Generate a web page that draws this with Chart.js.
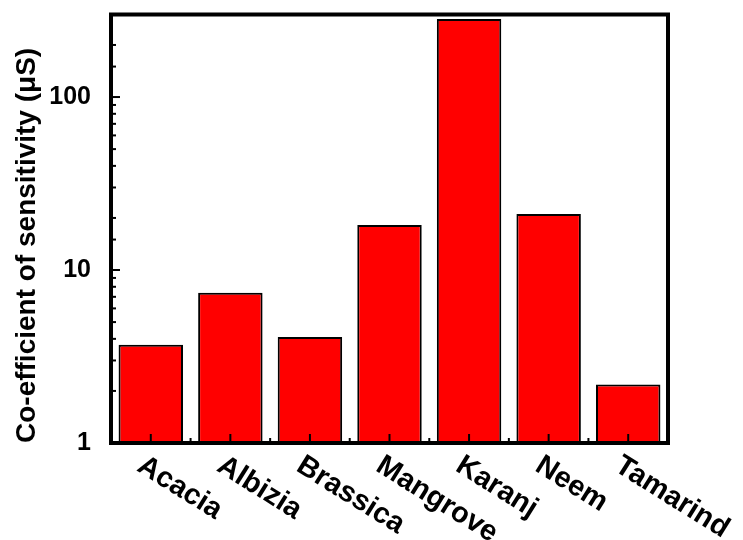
<!DOCTYPE html>
<html>
<head>
<meta charset="utf-8">
<script src="https://cdn.jsdelivr.net/npm/chart.js@4"></script>
<style>
  html, body { margin: 0; padding: 0; background: #fff; }
  #wrap { width: 743px; height: 540px; }
</style>
</head>
<body>
<div id="wrap"><canvas id="sensitivity"></canvas></div>
<script>
const species = ['Acacia', 'Albizia', 'Brassica', 'Mangrove', 'Karanj', 'Neem', 'Tamarind']
const sensitivity = [3.7, 7.4, 4.1, 18.2, 283, 21.1, 2.18]
const yTickLabels = [1, 10, 100]
const yTitle = 'Co-efficient of sensitivity (\u03bcS)'

const FONT = '"Liberation Sans", Arial, sans-serif'

// frame + inward ticks + rotated category labels
const framePlugin = {
  id: 'frame',
  afterDraw(chart) {
    const { ctx, chartArea: a, scales } = chart
    const x = scales.x, y = scales.y
    ctx.save()
    ctx.strokeStyle = '#000'
    ctx.lineWidth = 2
    // y ticks pointing inward
    y.ticks.forEach(t => {
      const py = y.getPixelForValue(t.value)
      const len = yTickLabels.includes(t.value) ? 9 : 5
      ctx.beginPath()
      ctx.moveTo(a.left, py)
      ctx.lineTo(a.left + len, py)
      ctx.stroke()
    })
    // x ticks: major at centres, minor between categories
    species.forEach((s, i) => {
      const px = x.getPixelForValue(i)
      ctx.beginPath()
      ctx.moveTo(px, a.bottom)
      ctx.lineTo(px, a.bottom - 9)
      ctx.stroke()
      if (i < species.length - 1) {
        const mx = (px + x.getPixelForValue(i + 1)) / 2
        ctx.beginPath()
        ctx.moveTo(mx, a.bottom)
        ctx.lineTo(mx, a.bottom - 5)
        ctx.stroke()
      }
    })
    ctx.lineWidth = 4
    ctx.strokeRect(a.left, a.top, a.right - a.left, a.bottom - a.top)

    ctx.fillStyle = '#000'
    ctx.font = 'bold 29px ' + FONT
    ctx.textAlign = 'left'
    ctx.textBaseline = 'top'
    species.forEach((s, i) => {
      const px = x.getPixelForValue(i)
      ctx.save()
      ctx.translate(px - 3, a.bottom + 8)
      ctx.rotate(32 * Math.PI / 180)
      ctx.fillText(s, 0, 0)
      ctx.restore()
    })
    ctx.restore()
  }
}

new Chart(document.getElementById('sensitivity'), {
  type: 'bar',
  data: {
    labels: species,
    datasets: [{
      data: sensitivity,
      backgroundColor: '#ff0000',
      borderColor: '#000',
      borderWidth: 2,
      borderSkipped: false,
      barPercentage: 0.81,
      categoryPercentage: 1
    }]
  },
  options: {
    responsive: true,
    maintainAspectRatio: false,
    animation: false,
    layout: { padding: { left: 8, right: 75, top: 14, bottom: 0 } },
    plugins: { legend: { display: false }, tooltip: { enabled: false } },
    scales: {
      x: {
        grid: { display: false },
        border: { display: false },
        ticks: { display: false },
        afterFit: s => { s.height = 97 }
      },
      y: {
        type: 'logarithmic',
        min: 1,
        max: 300,
        grid: { display: false },
        border: { display: false },
        afterFit: s => { s.width = 103 },
        ticks: {
          autoSkip: false,
          padding: 12,
          color: '#000',
          font: { family: FONT, size: 25, weight: 'bold', lineHeight: 0.2 },
          callback: v => yTickLabels.includes(v) ? String(v) : ''
        },
        title: {
          display: true,
          text: yTitle,
          align: 'start',
          color: '#000',
          padding: { top: 2, bottom: 0 },
          font: { family: FONT, size: 28, weight: 'bold' }
        }
      }
    }
  },
  plugins: [framePlugin]
})
</script>
</body>
</html>
